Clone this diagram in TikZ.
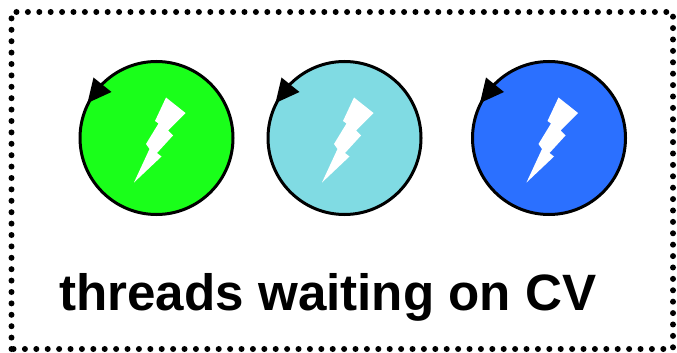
\documentclass[tikz,border=0pt]{standalone}
\usepackage{fontspec}
\setmainfont{Liberation Sans}
\usepackage{xcolor}
\usetikzlibrary{positioning}
\definecolor{threadgreen}{HTML}{1AFF1A}
\definecolor{threadcyan}{HTML}{80DBE3}
\definecolor{threadblue}{HTML}{2B70FF}
\tikzset{
  threadcircle/.style={circle,draw=black,line width=0.06cm,minimum size=3.06cm,inner sep=0pt},
  waitbox/.style={line width=0.12cm,line cap=round,dash pattern=on 0pt off 0.228cm},
}

\begin{document}
\begin{tikzpicture}
  \useasboundingbox (0,0) rectangle (13.54,7.04);
  \draw[waitbox] (0.23,0.06) rectangle (13.46,6.8);
  \foreach \name/\xpos/\col in {one/3.13/threadgreen,two/6.89/threadcyan,three/10.98/threadblue} {
    \node[threadcircle,fill=\col] (\name) at (\xpos,4.28) {};
    \fill[white] (\name.center) ++(0.19,0.81) -- ++(0.39,-0.31) -- ++(-0.35,-0.35) -- ++(0.10,-0.10)
      -- ++(-0.32,-0.35) -- ++(0.09,-0.07) -- ++(-0.55,-0.52) -- ++(0.31,0.67)
      -- ++(-0.07,0.10) -- ++(0.25,0.41) -- ++(-0.07,0.05) -- cycle;
    \fill[black] (\name.center) ++(-1.26,1.21) -- ++(0.36,-0.29) -- ++(-0.48,-0.22) -- cycle;
  }
  \node[font=\fontsize{29.1}{32}\bfseries,anchor=base west,inner sep=0pt] (label) at (1.18,0.83) {threads waiting on CV};
\end{tikzpicture}
\end{document}
